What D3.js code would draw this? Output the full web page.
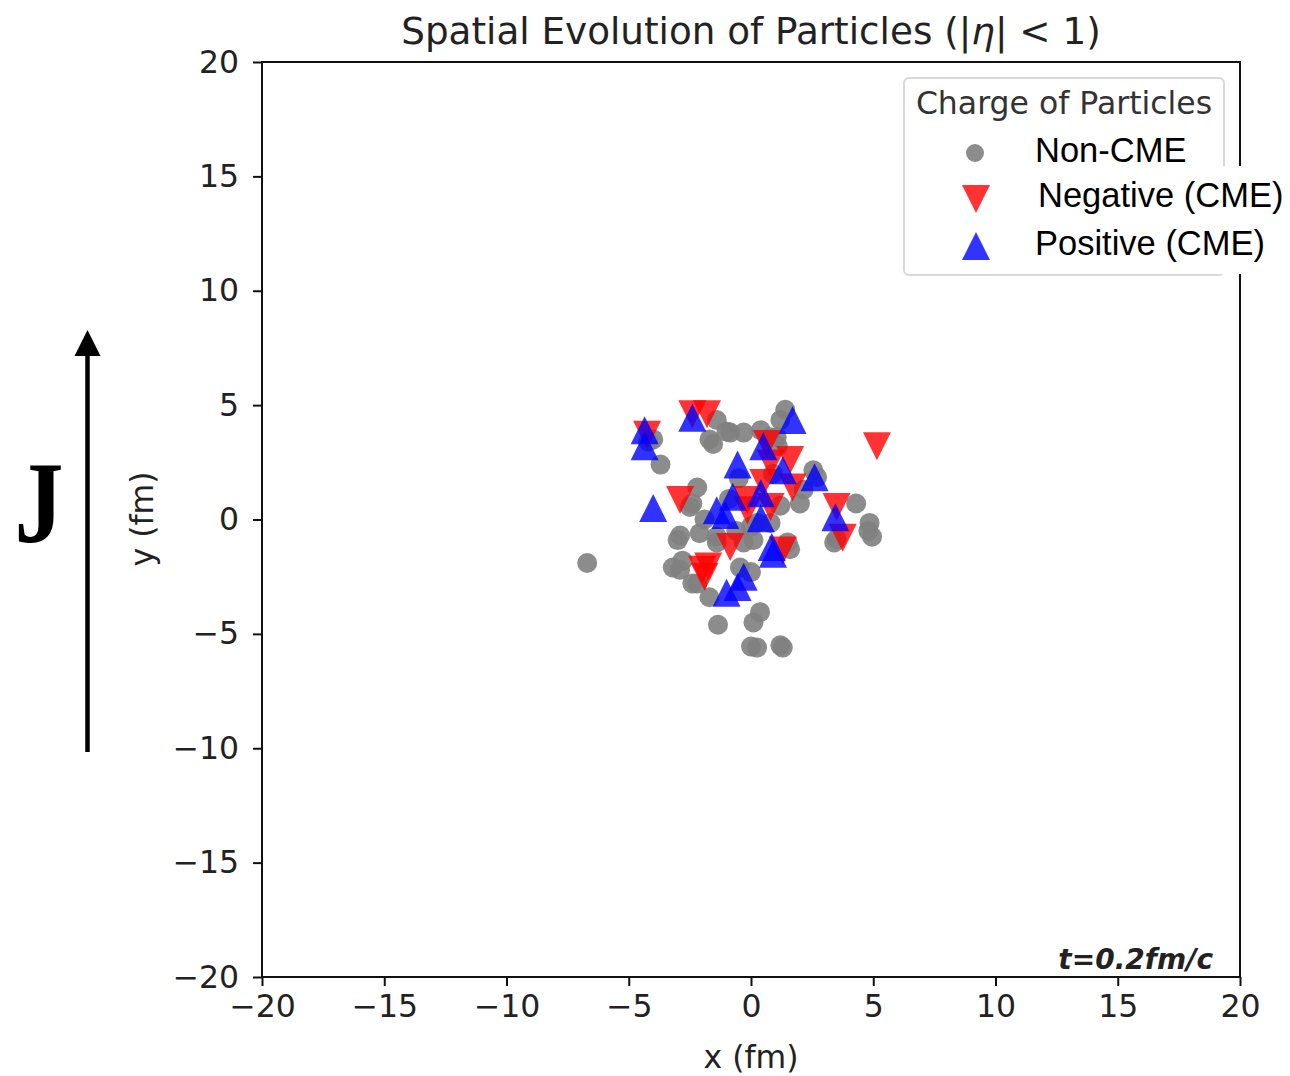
<!DOCTYPE html>
<html><head><meta charset="utf-8">
<script src="https://cdn.jsdelivr.net/npm/d3@7"></script>
<style>body{margin:0;background:#fff}svg{display:block}</style>
</head><body>
<svg id="c" width="1290" height="1076"></svg>
<script>
// ---- data ----
const xTicks = [-20,-15,-10,-5,0,5,10,15,20];
const yTicks = [-20,-15,-10,-5,0,5,10,15,20];
const legendLabels = ["Non-CME","Negative (CME)","Positive (CME)"];
const nonCME = [
 [-6.7,-1.9],[-1.35,-4.6],[0.1,-4.5],[0.37,-4.05],[0.0,-5.55],[0.25,-5.6],[1.2,-5.5],[1.3,-5.6],
 [4.8,-0.5],[4.95,-0.75],[4.3,0.7],[3.5,-0.85],[3.4,-1.0],[4.85,-0.15],
 [-3.7,2.4],[-4.0,3.5],[-4.2,3.4],[-1.4,4.35],[-1.7,3.5],[-1.55,3.3],[-1.0,3.85],[-0.85,3.8],
 [-0.3,3.8],[0.4,3.9],[1.05,3.6],[0.8,3.6],[1.4,4.8],[1.2,4.35],[1.1,3.2],
 [2.55,2.15],[2.7,1.85],[2.15,1.3],[2.0,0.7],[1.2,0.6],
 [-2.2,1.4],[-2.5,0.55],[-2.4,0.7],[-2.9,-0.7],[-2.1,-0.6],[-3.0,-0.9],[-1.4,-0.75],
 [-3.2,-2.1],[-2.8,-1.8],[-2.9,-2.2],[-2.4,-2.8],[-2.2,-2.8],[-1.7,-3.4],[-1.4,-1.0],
 [0.0,-2.3],[-0.45,-2.1],[0.1,-0.9],[-0.3,-1.0],[1.5,-1.0],[1.6,-1.3],[0.8,-0.15],
 [0.25,-0.15],[0.0,-0.3],[-0.6,-0.5],[-0.9,0.9],[-0.5,1.8],[0.9,2.0],[-1.9,0.0]
];
const negative = [
 [-2.4,4.6],[-1.8,4.6],[-4.25,3.7],[5.15,3.2],[-2.9,0.85],[-0.85,-1.2],[-2.0,-2.2],[-1.75,-2.05],
 [-1.9,-2.5],[3.75,-0.8],[3.5,0.55],[0.65,3.3],[0.8,2.45],[1.6,2.6],[1.7,1.4],[0.5,1.6],
 [-0.15,0.85],[-0.15,0.4],[0.8,0.55],[1.3,-1.35]
];
const positive = [
 [-4.35,3.9],[-4.35,3.2],[-2.4,4.45],[1.7,4.35],[0.5,3.2],[-0.55,2.4],[1.3,2.15],[2.6,1.85],
 [-4.0,0.5],[-0.75,1.0],[-1.4,0.4],[-1.05,0.2],[0.4,1.15],[0.4,0.05],[3.45,0.1],[0.85,-1.2],
 [0.9,-1.5],[-0.3,-2.5],[-0.55,-2.95],[-1.0,-3.2]
];

// ---- chart ----
const svg = d3.select("#c");
const L=262, R=1240, T=62, B=977;
const x = d3.scaleLinear().domain([-20,20]).range([L,R]);
const y = d3.scaleLinear().domain([-20,20]).range([B,T]);
const font = "'DejaVu Sans', sans-serif";
const fmt = d=>d<0?"\u2212"+(-d):d;

const gx = svg.append("g").attr("transform",`translate(0,${B})`)
  .call(d3.axisBottom(x).tickValues(xTicks).tickSize(9).tickPadding(9).tickFormat(fmt));
const gy = svg.append("g").attr("transform",`translate(${L},0)`)
  .call(d3.axisLeft(y).tickValues(yTicks).tickSize(9).tickPadding(14).tickFormat(fmt));
[gx,gy].forEach(g=>{
  g.select(".domain").remove();
  g.selectAll("line").attr("stroke","#111").attr("stroke-width",2);
  g.selectAll("text").attr("font-family",font).attr("font-size",31.5).attr("fill","#222");
});

// markers
const plot = svg.append("g");
plot.selectAll("circle.n").data(nonCME).join("circle").attr("class","n")
  .attr("cx",d=>x(d[0])).attr("cy",d=>y(d[1])).attr("r",10).attr("fill","#808080").attr("opacity",0.9);
const tri = 14;
const down = `M${-tri},${-tri}L${tri},${-tri}L0,${tri}Z`;
const up = `M${-tri},${tri}L${tri},${tri}L0,${-tri}Z`;
plot.selectAll("path.neg").data(negative).join("path").attr("class","neg")
  .attr("d",down).attr("transform",d=>`translate(${x(d[0])},${y(d[1])})`).attr("fill","#ff0000").attr("opacity",0.8);
plot.selectAll("path.pos").data(positive).join("path").attr("class","pos")
  .attr("d",up).attr("transform",d=>`translate(${x(d[0])},${y(d[1])})`).attr("fill","#0000ff").attr("opacity",0.8);

// frame
svg.append("rect").attr("x",L).attr("y",T).attr("width",R-L).attr("height",B-T)
  .attr("fill","none").attr("stroke","#111").attr("stroke-width",2);

// title & labels
const title = svg.append("text").attr("x",(L+R)/2).attr("y",44).attr("text-anchor","middle")
  .attr("font-family",font).attr("font-size",37.3).attr("fill","#222");
title.append("tspan").text("Spatial Evolution of Particles (|");
title.append("tspan").attr("font-style","italic").text("\u03b7");
title.append("tspan").text("| < 1)");

svg.append("text").attr("x",(L+R)/2).attr("y",1068).attr("text-anchor","middle")
  .attr("font-family",font).attr("font-size",31.5).attr("fill","#222").text("x (fm)");
svg.append("text").attr("transform","translate(153,519) rotate(-90)").attr("text-anchor","middle")
  .attr("font-family",font).attr("font-size",31.5).attr("fill","#222").text("y (fm)");

svg.append("text").attr("x",1213).attr("y",969).attr("text-anchor","end")
  .attr("font-family",font).attr("font-size",28).attr("font-weight","bold").attr("font-style","italic")
  .attr("fill","#222").text("t=0.2fm/c");

// legend
svg.append("rect").attr("x",904).attr("y",78).attr("width",320).attr("height",197).attr("rx",5)
  .attr("fill","#fff").attr("stroke","#d8d8d8").attr("stroke-width",2);
svg.append("text").attr("x",1064).attr("y",114).attr("text-anchor","middle")
  .attr("font-family",font).attr("font-size",31.5).attr("fill","#333").text("Charge of Particles");
// white patch behind overflowing labels
svg.append("rect").attr("x",1022).attr("y",166).attr("width",268).attr("height",108).attr("fill","#fff");
svg.append("circle").attr("cx",975).attr("cy",153).attr("r",9).attr("fill","#808080").attr("opacity",0.9);
svg.append("path").attr("d",down).attr("transform","translate(976,199)").attr("fill","#ff0000").attr("opacity",0.8);
svg.append("path").attr("d",up).attr("transform","translate(976,246)").attr("fill","#0000ff").attr("opacity",0.8);
const lf = "'Liberation Sans', Arial, sans-serif";
svg.append("text").attr("x",1035).attr("y",162).attr("font-family",lf).attr("font-size",34.5).attr("fill","#000").text(legendLabels[0]);
svg.append("text").attr("x",1038).attr("y",207).attr("font-family",lf).attr("font-size",34.5).attr("fill","#000").text(legendLabels[1]);
svg.append("text").attr("x",1035).attr("y",255).attr("font-family",lf).attr("font-size",34.5).attr("fill","#000").text(legendLabels[2]);

// J arrow annotation
svg.append("line").attr("x1",87.5).attr("y1",752).attr("x2",87.5).attr("y2",352)
  .attr("stroke","#000").attr("stroke-width",4.5);
svg.append("path").attr("d","M87.5,330L74.5,356L100.5,356Z").attr("fill","#000");
svg.append("text").attr("transform","translate(39,542) scale(1,1.18)").attr("text-anchor","middle")
  .attr("font-family","'Liberation Serif', 'Times New Roman', serif").attr("font-weight","bold")
  .attr("font-size",98).attr("fill","#000").text("J");
</script>
</body></html>
